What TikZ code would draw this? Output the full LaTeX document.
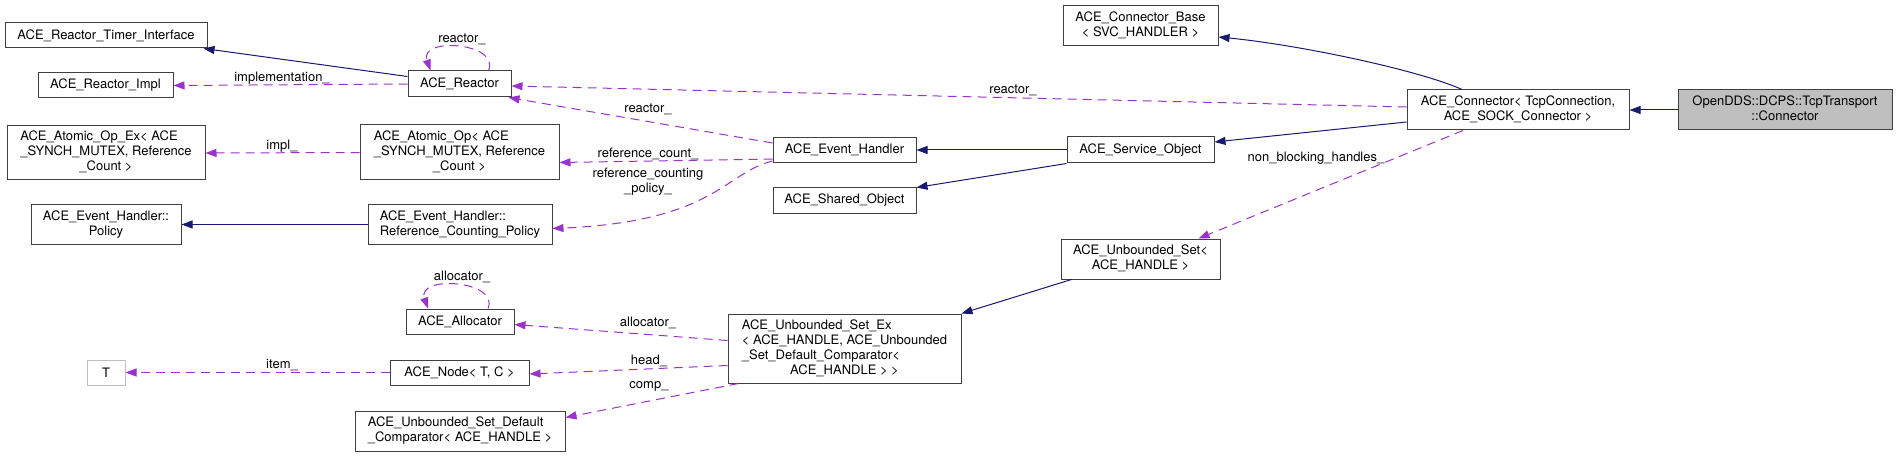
\documentclass[tikz,border=0pt]{standalone}
\usepackage{fontspec}
\setmainfont{TeX Gyre Heros}
\usepackage{tikz}
\usetikzlibrary{arrows.meta}
\definecolor{inhblue}{HTML}{191970}
\definecolor{usepurple}{HTML}{9A32CD}
\definecolor{boxgray}{HTML}{404040}
\definecolor{tgray}{HTML}{BFBFBF}
\newcommand{\lns}[1]{\begin{tabular}{@{}l@{}}#1\end{tabular}}
\newcommand{\lastln}[1]{\multicolumn{1}{@{}c@{}}{#1}}

\begin{document}
\begin{tikzpicture}[x=1pt, y=-1pt, font=\fontsize{13}{15}\selectfont,
	main/.style = {draw=boxgray, line width=1pt, rectangle, inner sep=0pt, fill=white},
	sz/.style 2 args = {minimum width=#1pt, minimum height=#2pt},
	inh/.style = {draw=inhblue, line width=1pt, -{Triangle[length=11pt, width=8pt]}},
	usage/.style = {draw=usepurple, line width=1pt, dash pattern=on 9pt off 6pt, -{Triangle[length=11pt, width=8pt]}},
	lbl/.style = {inner sep=0pt, align=center}]
				\useasboundingbox (0,0) rectangle (1897,457);
				\node[main, sz={214}{40}, fill=tgray] (0) at (1785,110) {\lns{OpenDDS::DCPS::TcpTransport\\\lastln{::Connector}}};
				\node[main, sz={222}{40}] (1) at (1518,110) {\lns{ACE\_Connector< TcpConnection,\\\lastln{ACE\_SOCK\_Connector >}}};
				\node[main, sz={155}{40}] (2) at (1140.5,26) {\lns{ACE\_Connector\_Base\\\lastln{< SVC\_HANDLER >}}};
				\node[main, sz={147}{26}] (3) at (1140.5,150) {ACE\_Service\_Object};
				\node[main, sz={143}{25}] (4) at (844.5,150) {ACE\_Event\_Handler};
				\node[main, sz={143}{25}] (5) at (844.5,200.5) {ACE\_Shared\_Object};
				\node[main, sz={159}{40}] (6) at (1140.5,259) {\lns{ACE\_Unbounded\_Set<\\\lastln{ACE\_HANDLE >}}};
				\node[main, sz={103}{26}] (7) at (459.5,84) {ACE\_Reactor};
				\node[main, sz={199}{55}] (8) at (459.5,152.5) {\lns{ACE\_Atomic\_Op< ACE\\\_SYNCH\_MUTEX, Reference\\\lastln{\_Count >}}};
				\node[main, sz={184}{39}] (9) at (460,224.5) {\lns{ACE\_Event\_Handler::\\\lastln{Reference\_Counting\_Policy}}};
				\node[main, sz={233}{69}] (10) at (844.5,348.5) {\lns{ACE\_Unbounded\_Set\_Ex\\< ACE\_HANDLE, ACE\_Unbounded\\\_Set\_Default\_Comparator<\\\lastln{ACE\_HANDLE > >}}};
				\node[main, sz={202}{25}] (11) at (106,35.5) {ACE\_Reactor\_Timer\_Interface};
				\node[main, sz={135}{25}] (12) at (105.5,85.5) {ACE\_Reactor\_Impl};
				\node[main, sz={198}{54}] (13) at (106,153) {\lns{ACE\_Atomic\_Op\_Ex< ACE\\\_SYNCH\_MUTEX, Reference\\\lastln{\_Count >}}};
				\node[main, sz={150}{39}] (14) at (106,224.5) {\lns{ACE\_Event\_Handler::\\\lastln{Policy}}};
				\node[main, sz={108}{25}] (15) at (460,321.5) {ACE\_Allocator};
				\node[main, sz={139}{25}] (16) at (459.5,372.5) {ACE\_Node< T, C >};
				\node[main, sz={38}{25}, draw=tgray] (17) at (106,372.5) {T};
				\node[main, sz={210}{40}] (18) at (460,431) {\lns{ACE\_Unbounded\_Set\_Default\\\lastln{\_Comparator< ACE\_HANDLE >}}};
				\draw[inh] (0) -- (1);
				\draw[inh] ([xshift=-56pt]1.north) .. controls +(-42,-19) and +(82,8) .. ([yshift=-11pt]2.east);
				\draw[inh] ([yshift=-12pt]1.west) -- ([yshift=8pt]3.east);
				\draw[inh] (3.west) -- (4.east);
				\draw[inh] (3.south west) -- (5.north east);
				\draw[inh] ([xshift=11pt]6.south west) -- (10.north east);
				\draw[inh] ([yshift=-6pt]7.north west) -- ([xshift=-4pt]11.south east);
				\draw[inh] (9.west) -- (14.east);
				\draw[usage] ([yshift=3pt]1.west) -- ([yshift=-2pt]7.east) node[lbl, at={(1013,90)}] {reactor\_};
				\draw[usage] ([xshift=-55pt]1.south) -- ([xshift=58pt]6.north) node[lbl, at={(1316,158)}] {non\_blocking\_handles\_};
				\draw[usage] ([xshift=29pt]7.north) .. controls +(12,-28) and +(-12,-34) .. ([xshift=-29pt]7.north) node[lbl, at={(462,39)}] {reactor\_};
				\draw[usage] (7.west) -- (12.east) node[lbl, at={(282,78)}] {implementation\_};
				\draw[usage] ([yshift=-6pt]4.north west) -- ([xshift=-3pt]7.south east) node[lbl, at={(648,109)}] {reactor\_};
				\draw[usage] ([yshift=4pt]4.south west) -- ([yshift=-10pt]8.east) node[lbl, at={(648,154)}] {reference\_count\_};
				\draw[usage] ([yshift=2pt]4.south west) .. controls +(-48,12) and +(162,-7) .. ([yshift=-4pt]9.east) node[lbl, at={(648,182)}] {reference\_counting\\\_policy\_};
				\draw[usage] (8.west) -- (13.east) node[lbl, at={(282,146)}] {impl\_};
				\draw[usage] ([yshift=8pt]10.west) -- ([yshift=-3pt]15.east) node[lbl, at={(648,323)}] {allocator\_};
				\draw[usage] ([xshift=28pt]15.north) .. controls +(12,-28) and +(-12,-34) .. ([xshift=-32pt]15.north) node[lbl, at={(462,277)}] {allocator\_};
				\draw[usage] ([yshift=-17pt]10.west) -- ([yshift=-1.5pt]16.east) node[lbl, at={(649,361)}] {head\_};
				\draw[usage] (16.west) -- (17.east) node[lbl, at={(282,365)}] {item\_};
				\draw[usage] ([xshift=11pt]10.south west) -- ([yshift=-7pt]18.north east) node[lbl, at={(649,386)}] {comp\_};
			\end{tikzpicture}
\end{document}
